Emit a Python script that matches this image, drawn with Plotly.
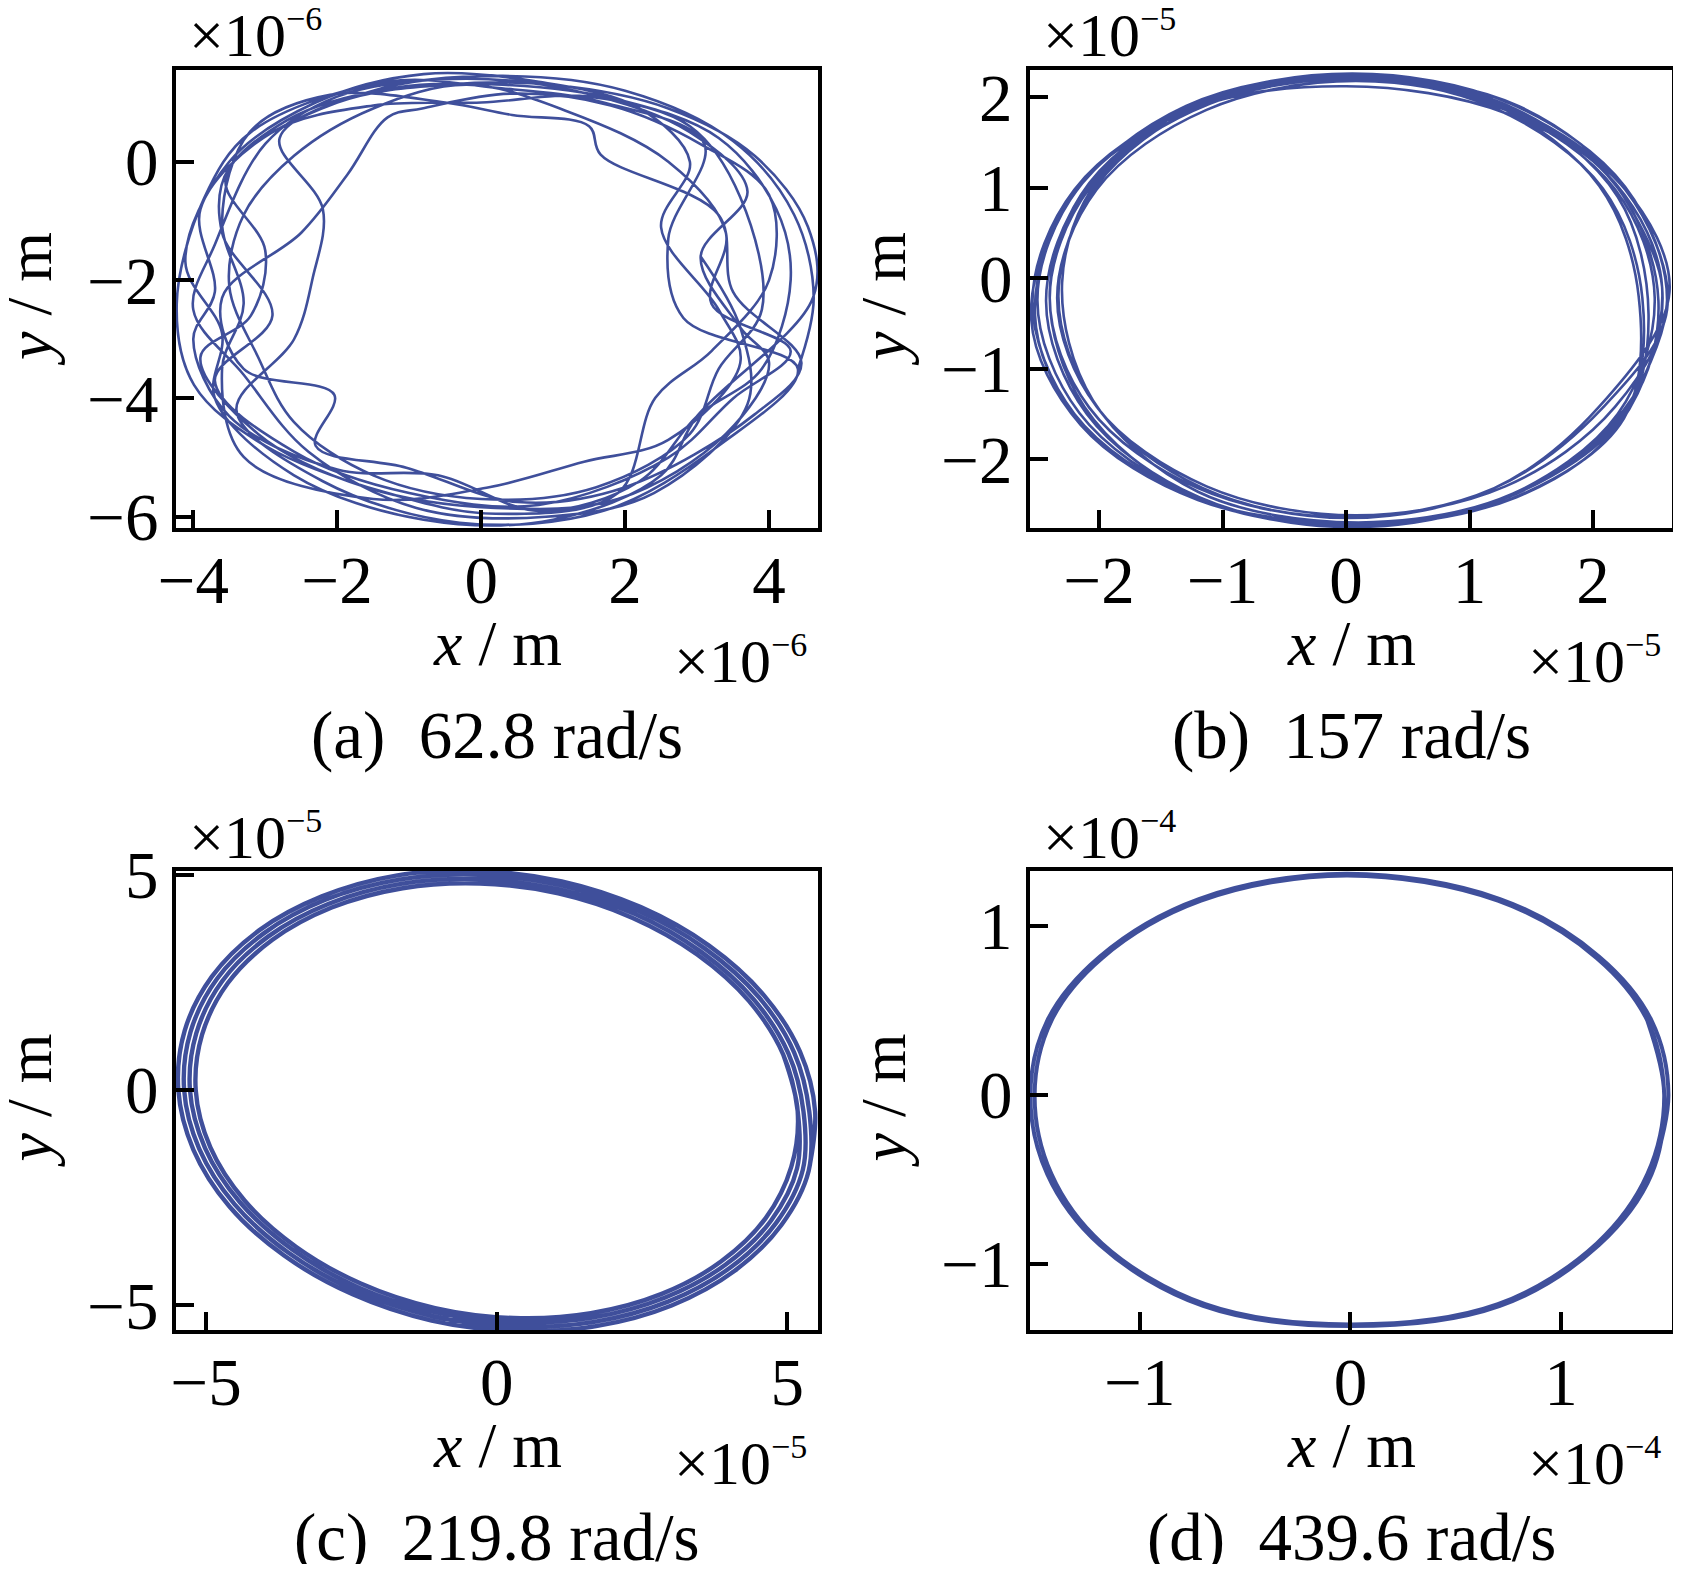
import plotly.graph_objects as go
from plotly.subplots import make_subplots

# 轴心轨迹 (从原图读取的点, 单位为各图坐标轴上的 ×10^n)
loops_a = [
    [(4.62, -2.3), (4.35, -0.9), (3.5, 0.35), (2.0, 1.2), (0.3, 1.45), (-1.5, 1.2), (-2.8, 0.4), (-2.2, -0.8),
     (-2.34, -1.96), (-2.6, -3.0), (-3.4, -4.2), (-2.2, -5.4), (-0.3, -6.1), (1.7, -5.9), (3.3, -4.8), (4.4, -3.5)],
    [(2.81, -2.64), (2.6, -1.3), (3.1, 0.3), (1.7, 1.0), (0.2, 1.25), (-1.3, 1.35), (-3.2, 0.5), (-3.85, -0.62),
     (-4.23, -2.41), (-3.99, -3.77), (-3.0, -4.8), (-1.3, -5.6), (0.2, -5.95), (1.9, -5.6), (2.42, -3.99), (3.2, -3.2)],
    [(4.0, -2.0), (4.0, -0.56), (3.06, 0.29), (1.8, 0.95), (0.4, 1.15), (-0.82, 0.9), (-1.3, 0.75), (-1.86, -0.22),
     (-2.5, -1.2), (-3.6, -2.3), (-3.3, -3.5), (-2.04, -3.94), (-2.3, -4.8), (-1.04, -5.17), (0.5, -5.75),
     (2.0, -5.5), (3.8, -4.27), (4.45, -3.4)],
    [(3.5, -2.2), (3.3, -0.9), (1.66, 0.12), (1.5, 0.6), (0.43, 0.79), (-0.5, 1.0), (-2.1, 1.13), (-3.21, 0.51),
     (-3.6, -1.0), (-3.3, -2.4), (-3.6, -3.5), (-3.3, -4.99), (-1.5, -5.7), (0.11, -5.5), (1.43, -5.07),
     (2.6, -4.7), (3.6, -3.4)],
    [(3.3, -2.5), (2.5, -1.11), (2.9, 0.0), (2.2, 0.9), (0.8, 1.35), (-0.8, 1.48), (-2.3, 1.0), (-3.5, 0.0),
     (-4.11, -1.69), (-3.6, -2.9), (-3.7, -4.0), (-2.6, -5.3), (-0.8, -6.05), (1.0, -6.05), (2.5, -5.3), (3.0, -4.3)],
    [(4.61, -2.3), (4.54, -1.1), (3.8, 0.1), (2.6, 0.9), (1.0, 1.3), (-0.5, 1.3), (-2.0, 1.0), (-3.5, -0.1),
     (-3.6, -1.2), (-2.9, -2.6), (-3.7, -3.7), (-2.6, -4.9), (-1.0, -5.6), (0.8, -5.8), (2.6, -5.0), (3.5, -4.0),
     (4.3, -3.2)],
    [(3.2, -2.4), (3.4, -1.2), (2.6, 0.0), (1.2, 0.85), (-0.2, 1.3), (-1.5, 0.9), (-2.6, 0.1), (-3.3, -0.9),
     (-3.5, -2.1), (-3.1, -3.3), (-2.6, -4.4), (-1.5, -5.3), (0.0, -5.7), (1.6, -5.5), (2.9, -4.6), (3.3, -3.5)],
    [(3.9, -2.5), (3.6, -0.6), (2.9, 0.6), (1.5, 1.1), (0.0, 1.0), (-1.5, 0.95), (-2.9, 0.5), (-3.9, -0.8),
     (-3.7, -2.2), (-4.0, -3.0), (-3.5, -4.3), (-2.0, -5.2), (-0.6, -5.3), (0.8, -5.9), (2.2, -5.4), (3.0, -4.3),
     (3.9, -3.5)],
    [(4.3, -2.0), (4.1, -0.8), (3.3, 0.4), (1.9, 1.05), (0.3, 1.3), (-1.2, 1.25), (-2.7, 0.7), (-3.55, -0.3),
     (-3.0, -1.5), (-3.2, -2.6), (-3.9, -3.3), (-3.1, -4.6), (-1.6, -5.5), (0.2, -5.85), (1.9, -5.7), (3.4, -4.6),
     (4.0, -3.4)],
    [(3.6, -2.8), (3.05, -1.6), (3.7, -0.5), (2.9, 0.5), (1.3, 1.2), (-0.4, 1.4), (-2.0, 1.1), (-3.0, 0.3),
     (-3.7, -1.4), (-4.0, -2.5), (-3.3, -3.6), (-2.4, -4.9), (-0.9, -5.85), (0.9, -6.0), (2.4, -5.6), (3.7, -4.1)],
]

loops_b = [
    [(2.60, -0.24), (2.26, 1.01), (1.33, 1.93), (0.05, 2.26), (-1.23, 1.93), (-2.16, 1.01), (-2.50, -0.24),
     (-2.16, -1.49), (-1.23, -2.41), (0.05, -2.74), (1.33, -2.41), (2.26, -1.49)],
    [(2.40, -0.22), (2.08, 0.99), (1.20, 1.88), (0.00, 2.20), (-1.20, 1.88), (-2.08, 0.99), (-2.40, -0.22),
     (-2.08, -1.43), (-1.20, -2.32), (0.00, -2.64), (1.20, -2.32), (2.08, -1.43)],
    [(2.60, -0.35), (2.30, 0.92), (1.40, 1.90), (0.15, 2.22), (-1.15, 1.95), (-2.08, 1.05), (-2.40, -0.15),
     (-2.12, -1.42), (-1.25, -2.40), (0.05, -2.72), (1.35, -2.43), (2.25, -1.55)],
    [(2.37, -0.20), (2.05, 1.02), (1.20, 1.92), (0.02, 2.25), (-1.16, 1.92), (-2.02, 1.02), (-2.33, -0.20),
     (-2.02, -1.42), (-1.16, -2.32), (0.02, -2.65), (1.20, -2.32), (2.05, -1.42)],
    [(2.62, -0.15), (2.25, 1.00), (1.30, 1.82), (0.00, 2.12), (-1.28, 1.85), (-2.20, 0.95), (-2.52, -0.40),
     (-2.18, -1.55), (-1.25, -2.42), (0.10, -2.70), (1.35, -2.38), (2.30, -1.40)],
    [(2.53, -0.25), (2.20, 1.00), (1.29, 1.92), (0.05, 2.25), (-1.19, 1.92), (-2.10, 1.00), (-2.43, -0.25),
     (-2.10, -1.50), (-1.19, -2.42), (0.05, -2.75), (1.29, -2.42), (2.20, -1.50)],
    [(2.50, -0.22), (2.18, 0.98), (1.29, 1.86), (0.08, 2.18), (-1.13, 1.86), (-2.02, 0.98), (-2.34, -0.22),
     (-2.02, -1.42), (-1.13, -2.30), (0.08, -2.62), (1.29, -2.30), (2.18, -1.42)],
    [(2.60, -0.26), (2.26, 0.98), (1.32, 1.89), (0.03, 2.22), (-1.26, 1.89), (-2.20, 0.98), (-2.54, -0.26),
     (-2.20, -1.50), (-1.26, -2.41), (0.03, -2.74), (1.32, -2.41), (2.26, -1.50)],
    [(2.45, -0.40), (2.20, 0.90), (1.35, 1.86), (0.10, 2.20), (-1.10, 1.93), (-2.00, 1.10), (-2.30, -0.05),
     (-2.05, -1.35), (-1.20, -2.36), (0.10, -2.70), (1.38, -2.42), (2.22, -1.60)],
    [(2.56, -0.10), (2.18, 1.05), (1.25, 1.90), (-0.02, 2.24), (-1.30, 1.90), (-2.22, 0.90), (-2.55, -0.45),
     (-2.15, -1.62), (-1.20, -2.45), (0.12, -2.72), (1.40, -2.36), (2.32, -1.32)],
]

loops_c = [
    [(5.48, -0.50), (5.22, 0.89), (4.60, 2.20), (3.66, 3.35), (2.48, 4.25), (1.12, 4.85), (-0.31, 5.09),
     (-1.71, 4.99), (-3.01, 4.50), (-4.09, 3.71), (-4.90, 2.64), (-5.37, 1.38), (-5.48, 0.00), (-5.22, -1.39),
     (-4.60, -2.71), (-3.66, -3.85), (-2.48, -4.75), (-1.12, -5.36), (0.31, -5.60), (1.71, -5.49), (3.01, -5.01),
     (4.09, -4.21), (4.90, -3.14), (5.37, -1.88)],
    [(5.38, -0.50), (5.12, 0.87), (4.51, 2.16), (3.59, 3.28), (2.43, 4.17), (1.10, 4.76), (-0.30, 5.00),
     (-1.68, 4.89), (-2.95, 4.42), (-4.01, 3.64), (-4.81, 2.59), (-5.27, 1.35), (-5.38, 0.00), (-5.12, -1.37),
     (-4.51, -2.66), (-3.59, -3.78), (-2.43, -4.67), (-1.10, -5.26), (0.30, -5.50), (1.68, -5.39), (2.95, -4.92),
     (4.01, -4.14), (4.81, -3.09), (5.27, -1.85)],
    [(5.28, -0.50), (5.02, 0.85), (4.42, 2.11), (3.52, 3.21), (2.38, 4.09), (1.08, 4.66), (-0.29, 4.90),
     (-1.65, 4.79), (-2.89, 4.33), (-3.93, 3.57), (-4.72, 2.54), (-5.17, 1.32), (-5.28, 0.00), (-5.02, -1.35),
     (-4.42, -2.61), (-3.52, -3.71), (-2.38, -4.59), (-1.08, -5.16), (0.29, -5.40), (1.65, -5.29), (2.89, -4.83),
     (3.93, -4.07), (4.72, -3.04), (5.17, -1.82)],
    [(5.18, -0.49), (4.93, 0.83), (4.34, 2.07), (3.45, 3.15), (2.34, 4.00), (1.06, 4.57), (-0.29, 4.80),
     (-1.62, 4.69), (-2.84, 4.24), (-3.86, 3.49), (-4.63, 2.48), (-5.07, 1.29), (-5.18, -0.01), (-4.93, -1.33),
     (-4.34, -2.57), (-3.45, -3.65), (-2.34, -4.50), (-1.06, -5.07), (0.29, -5.30), (1.62, -5.19), (2.84, -4.74),
     (3.86, -3.99), (4.63, -2.98), (5.07, -1.79)],
]

loops_d = [
    [(1.51, 0.0), (1.43, 0.44), (1.18, 0.82), (0.71, 1.16), (-0.02, 1.31), (-0.72, 1.16), (-1.19, 0.82),
     (-1.44, 0.44), (-1.52, 0.0), (-1.44, -0.47), (-1.19, -0.89), (-0.70, -1.25), (0.0, -1.37), (0.71, -1.25),
     (1.18, -0.89), (1.43, -0.47)],
    [(1.49, 0.0), (1.41, 0.44), (1.17, 0.81), (0.70, 1.15), (-0.02, 1.30), (-0.71, 1.15), (-1.18, 0.81),
     (-1.42, 0.44), (-1.50, 0.0), (-1.42, -0.47), (-1.18, -0.88), (-0.69, -1.24), (0.0, -1.36), (0.70, -1.24),
     (1.17, -0.88), (1.41, -0.47)],
]

captions = ['(a)\u00a0\u00a062.8 rad/s', '(b)\u00a0\u00a0157 rad/s',
            '(c)\u00a0\u00a0219.8 rad/s', '(d)\u00a0\u00a0439.6 rad/s']
exponents = ['\u22126', '\u22125', '\u22125', '\u22124']
x_ticks = [[-4, -2, 0, 2, 4], [-2, -1, 0, 1, 2], [-5, 0, 5], [-1, 0, 1]]
y_ticks = [[-6, -4, -2, 0], [-2, -1, 0, 1, 2], [-5, 0, 5], [-1, 0, 1]]
x_ranges = [[-4.24, 4.68], [-2.56, 2.64], [-5.52, 5.53], [-1.522, 1.527]]
y_ranges = [[-6.19, 1.55], [-2.76, 2.30], [-5.58, 5.09], [-1.393, 1.326]]

BLUE = '#3f4f9b'
FONT = 'Liberation Serif'
W, H = 1665, 1556
line_widths = [2.6, 2.6, 4.4, 4.0]


def fx(px):
    return (px - 8) / W


def fy(py):
    return 1 - (py - 8) / H


def flatten(loops):
    # 各圈首尾相接; 首尾各多接一段已画过的点, 让样条两端不出钩
    pts = [loops[0][-1]] + [p for loop in loops for p in loop] + [loops[-1][0], loops[-1][1]]
    return [p[0] for p in pts], [p[1] for p in pts]


fig = make_subplots(rows=2, cols=2)

all_loops = [loops_a, loops_b, loops_c, loops_d]
cells = [(1, 1), (1, 2), (2, 1), (2, 2)]
for i, (loops, (r, c)) in enumerate(zip(all_loops, cells)):
    xs, ys = flatten(loops)
    fig.add_trace(go.Scatter(
        x=xs, y=ys, mode='lines',
        line=dict(color=BLUE, width=line_widths[i], shape='spline', smoothing=1.0),
        hoverinfo='skip', showlegend=False
    ), row=r, col=c)

# 各子图位置 (像素)
col_px = [(176, 818), (1030, 1672)]
row_px = [(70, 528), (871, 1330)]

text_font = dict(family=FONT, size=62, color='black')
annotations = []
for i, (r, c) in enumerate(cells):
    x0, x1 = col_px[c - 1]
    y0, y1 = row_px[r - 1]
    sfx = '' if i == 0 else str(i + 1)
    tick_font = dict(family=FONT, size=67, color='black')
    fig.layout['xaxis' + sfx].update(
        domain=[fx(x0), fx(x1)], range=x_ranges[i], tickvals=x_ticks[i],
        showline=True, mirror=True, linecolor='black', linewidth=4,
        ticks='inside', ticklen=18, tickwidth=3.5, tickcolor='black',
        showgrid=False, zeroline=False, tickfont=tick_font, ticklabelstandoff=-9,
        automargin=False
    )
    fig.layout['yaxis' + sfx].update(
        domain=[fy(y1), fy(y0)], range=y_ranges[i], tickvals=y_ticks[i],
        showline=True, mirror=True, linecolor='black', linewidth=4,
        ticks='inside', ticklen=18, tickwidth=3.5, tickcolor='black',
        showgrid=False, zeroline=False, tickfont=tick_font, ticklabelstandoff=0,
        automargin=False
    )
    # 坐标轴标题
    annotations.append(dict(
        text='<i>x</i> / m', x=fx((x0 + x1) / 2), y=fy(y1 + 115), xref='paper', yref='paper',
        xanchor='center', yanchor='middle', showarrow=False, font=dict(family=FONT, size=64, color='black')
    ))
    annotations.append(dict(
        text='<i>y</i> / m', x=fx(x0 - 147), y=fy((y0 + y1) / 2), xref='paper', yref='paper',
        xanchor='center', yanchor='middle', textangle=-90, showarrow=False,
        font=dict(family=FONT, size=64, color='black')
    ))
    exp_text = '\u00d710<sup><span style="font-size:34px">' + exponents[i] + '</span></sup>'
    # 左上角量级
    annotations.append(dict(
        text=exp_text, x=fx(x0 + 11), y=fy(y0 - 35), xref='paper', yref='paper',
        xanchor='left', yanchor='middle', showarrow=False, font=text_font
    ))
    # 右下角量级
    annotations.append(dict(
        text=exp_text, x=fx(x1 - 9), y=fy(y1 + 132), xref='paper', yref='paper',
        xanchor='right', yanchor='middle', showarrow=False, font=text_font
    ))
    # 子图标题
    annotations.append(dict(
        text=captions[i], x=fx((x0 + x1) / 2), y=fy(y1 + 207), xref='paper', yref='paper',
        xanchor='center', yanchor='middle', showarrow=False,
        font=dict(family=FONT, size=67, color='black')
    ))

fig.update_layout(
    width=W, height=H,
    margin=dict(l=0, r=0, t=0, b=0),
    paper_bgcolor='white', plot_bgcolor='white',
    annotations=annotations,
    showlegend=False
)

fig.write_html("out.html")
